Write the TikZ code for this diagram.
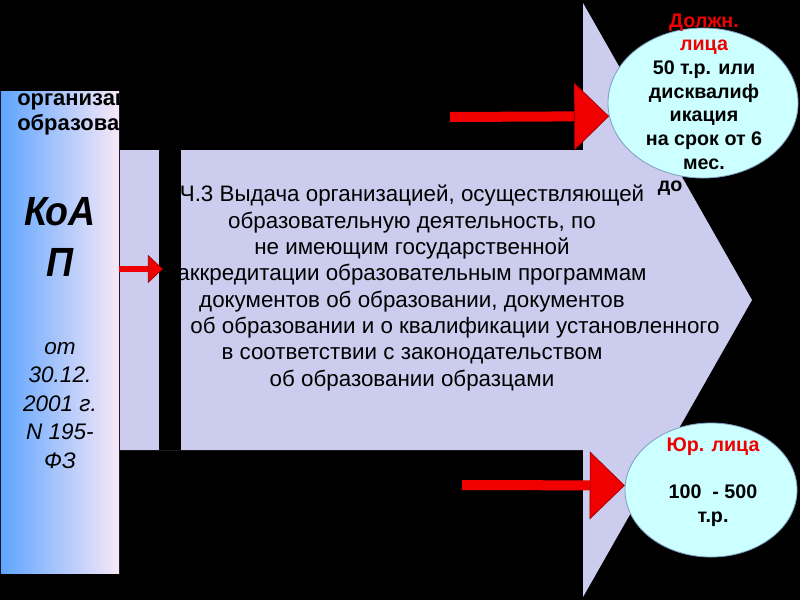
\documentclass[tikz,border=0pt]{standalone}
\usepackage{fontspec}
\setmainfont{Liberation Sans}
\usepackage{xcolor}
\usepackage{tikz}
\usetikzlibrary{positioning,arrows.meta,shapes.geometric,calc}
\definecolor{lav200}{HTML}{CCCCEE}
\definecolor{cyan100}{HTML}{CCFFFF}
\definecolor{steel400}{HTML}{7F9FBF}
\definecolor{blue400}{HTML}{5FA5FF}
\definecolor{blue200}{HTML}{A8D0F8}
\definecolor{pink50}{HTML}{F8E8F8}
\definecolor{red600}{HTML}{F00000}
\definecolor{red900}{HTML}{900000}
\tikzset{
  every node/.style={font=\fontsize{15.9}{18.7}\selectfont, inner sep=0pt},
  koapbox/.style={
    rectangle, minimum width=2.95cm, minimum height=12.025cm,
    left color=blue400, middle color=blue200, right color=pink50
  },
  oval/.style={ellipse, draw=steel400, fill=cyan100, line width=0.6pt},
  ovaltext/.style={align=center, font=\fontsize{14}{16.8}\selectfont\bfseries},
  bodytext/.style={align=center},
  datetext/.style={align=center, font=\fontsize{16}{20.3}\selectfont\itshape},
  codetext/.style={align=center, font=\fontsize{29}{36.8}\selectfont\bfseries\itshape},
  redarrow/.style={
    draw=red600, line width=2.5mm,
    -{Triangle[length=8.75mm, width=17mm, line width=0.4pt, color=red900, fill=red600]}
  },
  smallarrow/.style={
    draw=red600, line width=1.5mm,
    -{Triangle[length=3.75mm, width=7mm, line width=0.4pt, color=red900, fill=red600]}
  },
}
\begin{document}
\begin{tikzpicture}[x=0.025cm, y=-0.025cm]
  \fill[black] (0,0) rectangle (800,600);
  \useasboundingbox (0,0) rectangle (800,600);
  % big arrow
  \fill[lav200] (120,150) -- (583,150) -- (583,3) -- (752,300) -- (583,597) -- (583,450) -- (120,450) -- cycle;
  \fill[black] (159,150) rectangle (181,450);
  \node[bodytext] (article) at (412,288) {Ч.3 Выдача организацией, осуществляющей\\
    образовательную деятельность, по\\
    не имеющим государственной\\
    аккредитации образовательным программам\\
    документов об образовании, документов\\
    \hspace*{2.15cm}об образовании и о квалификации установленного\\
    в соответствии с законодательством\\
    об образовании образцами};
  % left column
  \node[koapbox] (koap) at (60,332.5) {};
  \begin{scope}
    \clip (koap.north west) rectangle (koap.south east);
    \node[anchor=west, align=left, font=\fontsize{15.6}{17.7}\selectfont\bfseries] (org) at (17,114) {организац\\образован};
  \end{scope}
  \node[codetext] (code) at (60,237) {\scalebox{0.92}[1]{КоА}\\\scalebox{0.92}[1]{П}};
  \node[datetext] (date) at (60,405.5) {от\\30.12.\\2001 г.\\N 195-\\ФЗ};
  % penalties
  \node[oval, minimum width=4.75cm, minimum height=3.75cm] (topoval) at (703,103) {};
  \node[oval, minimum width=4.3cm, minimum height=3.35cm] (botoval) at (711,490) {};
  \node[ovaltext] (toptext) at (704,91.5) {\color{red600}Должн.\\\color{red600}лица\\50 т.р. или\\дисквалиф\\икация\\на срок от 6\\мес.};
  \node[ovaltext] (upto) at (670,188) {до};
  \node[ovaltext] (bottext) at (713,482) {\color{red600}Юр. лица\\\mbox{}\\100~~- 500\\т.р.};
  % arrows
  \coordinate (topsrc) at (450,117);
  \coordinate (botsrc) at (462,485);
  \coordinate (smalltip) at (163,269);
  \draw[redarrow] (topsrc) -- (topoval.188);
  \draw[redarrow] (botsrc) -- (botoval.177);
  \draw[smallarrow] (koap.east |- smalltip) -- (smalltip);
\end{tikzpicture}
\end{document}
